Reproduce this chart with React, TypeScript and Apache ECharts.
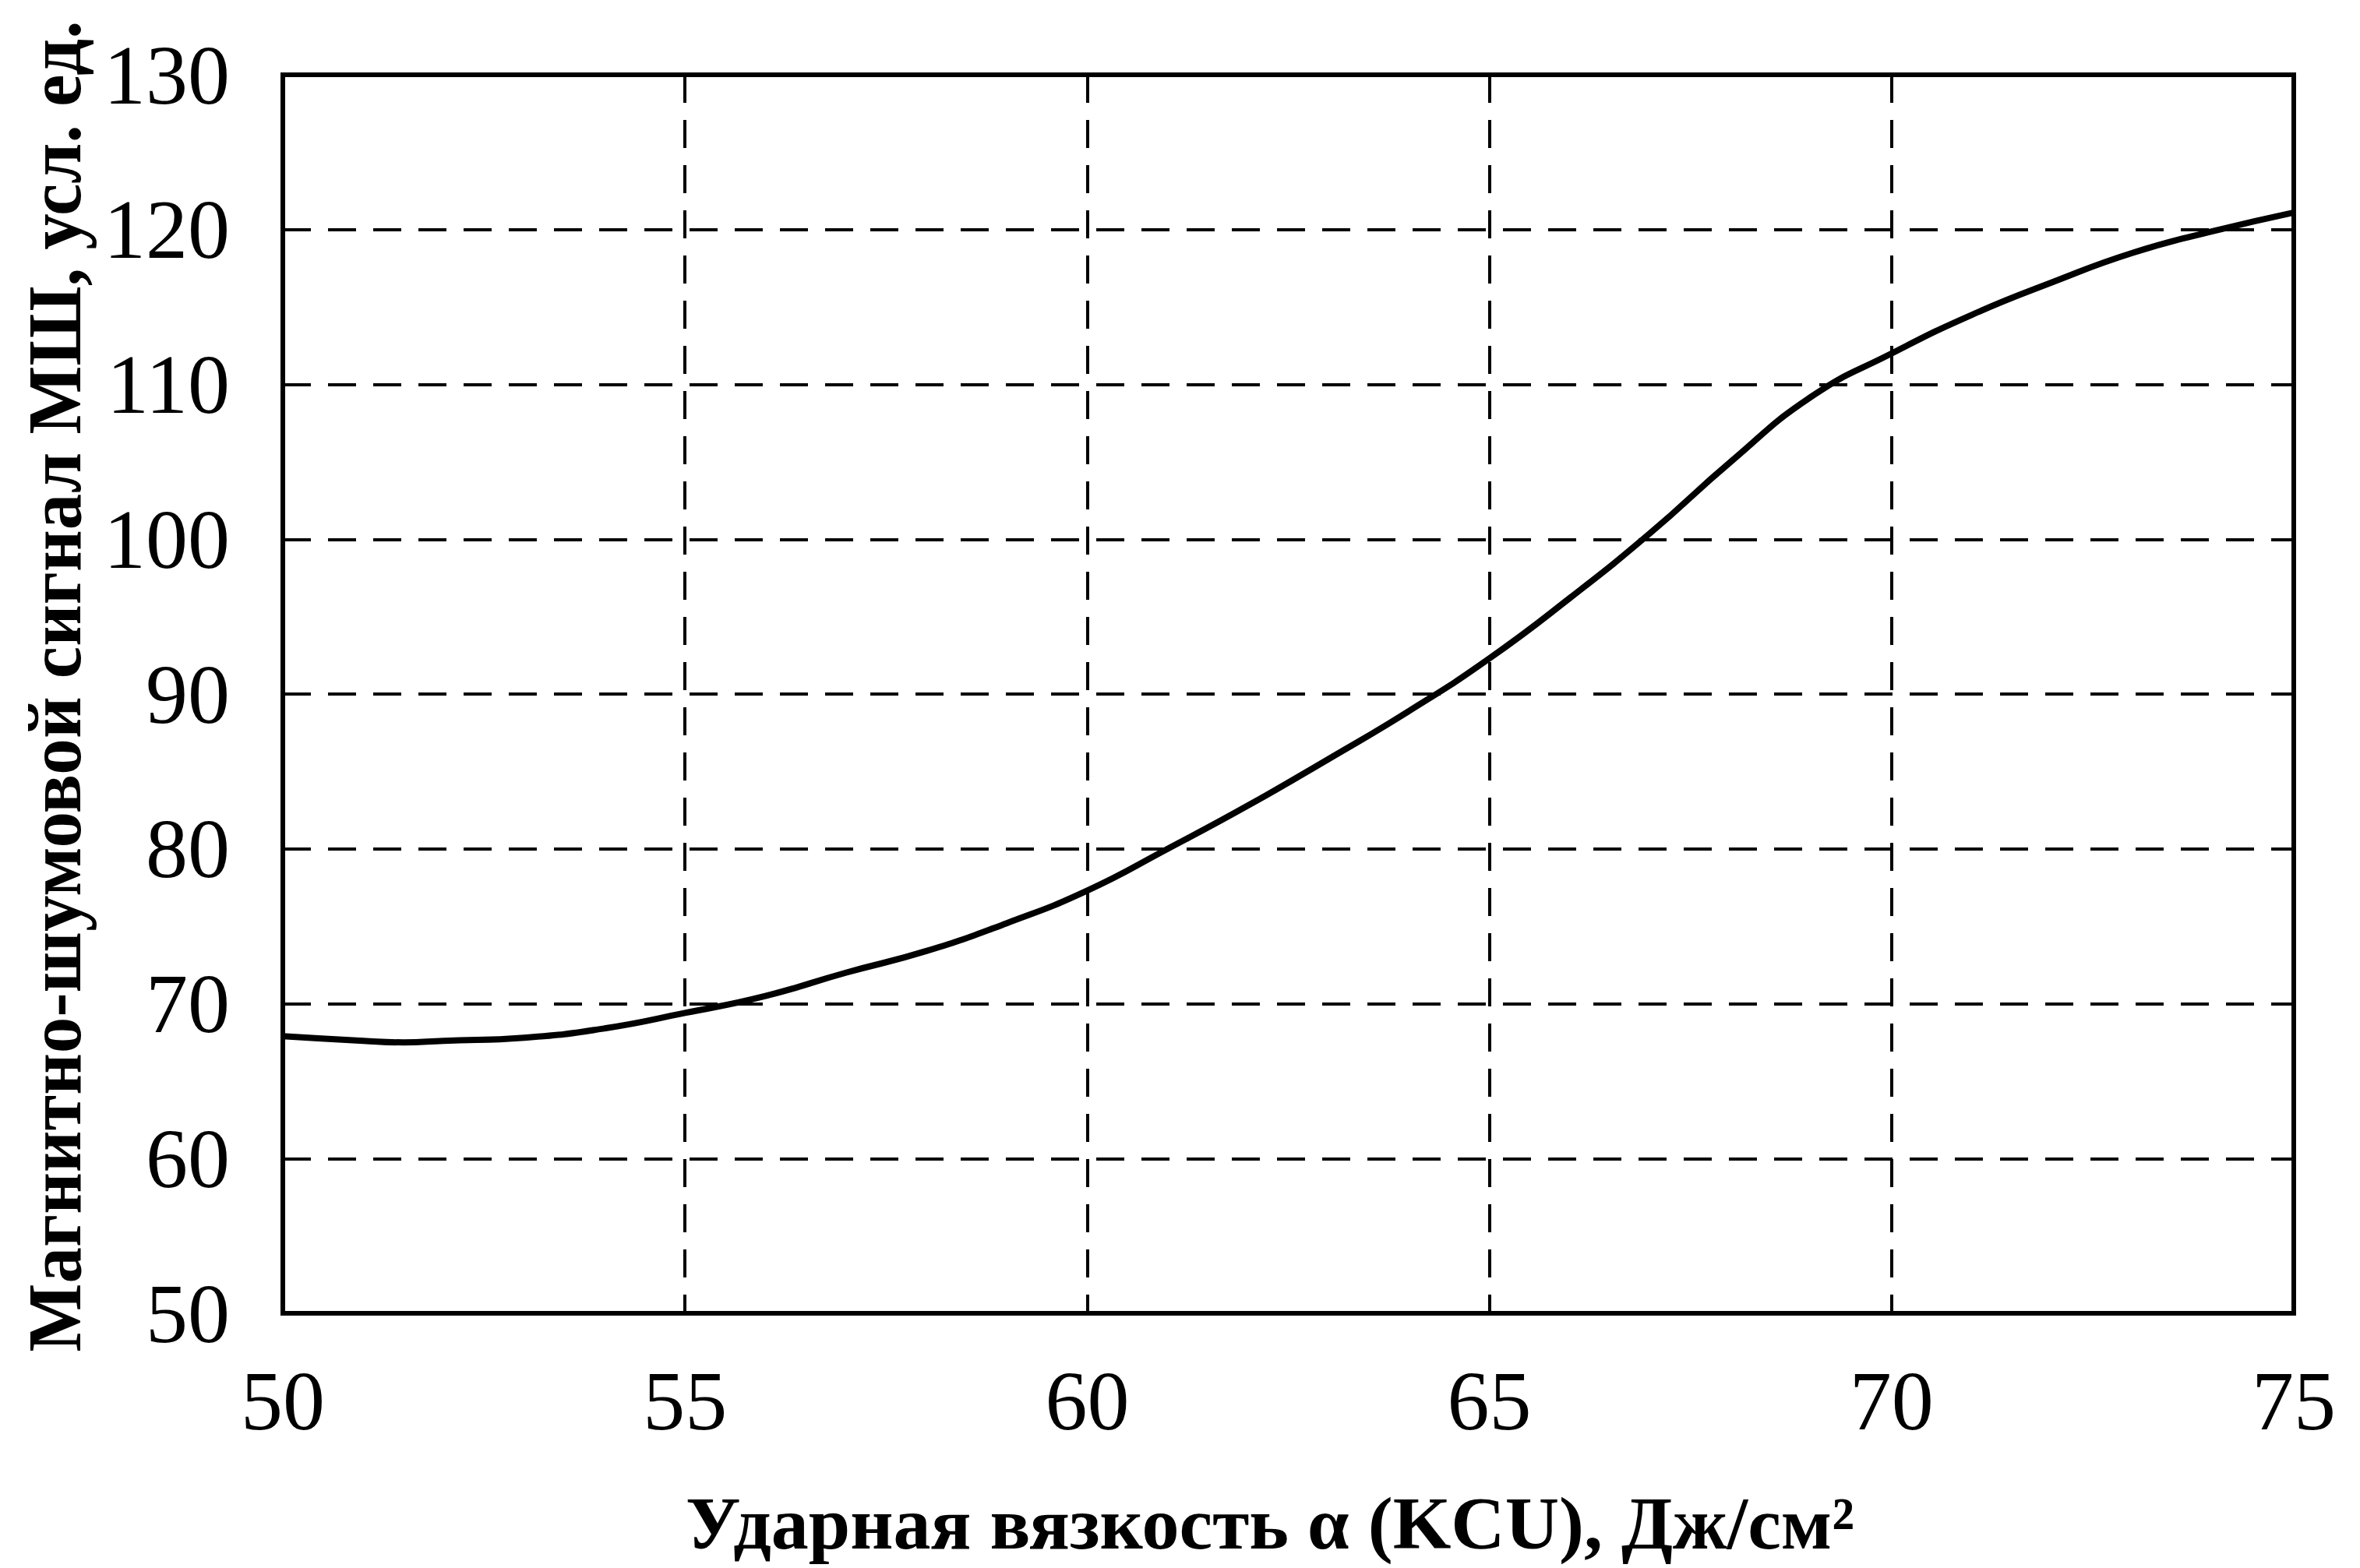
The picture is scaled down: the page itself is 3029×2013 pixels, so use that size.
import React, { useEffect, useRef } from "react";
import * as echarts from "echarts";

const xValues = [50, 51, 51.5, 52, 53, 54, 55, 56, 57, 58, 59, 60, 61, 62, 63, 64, 65, 66, 67, 68, 69, 70, 71, 72, 73, 74, 75];
const yValues = [67.9, 67.6, 67.5, 67.6, 67.8, 68.4, 69.4, 70.5, 72.0, 73.4, 75.2, 77.3, 80.0, 82.8, 85.8, 88.9, 92.3, 96.2, 100.4, 105.0, 109.2, 112.0, 114.5, 116.6, 118.5, 119.9, 121.1];

const xTitle = "Ударная вязкость α (KCU), Дж/см²";
const yTitle = "Магнитно-шумовой сигнал МШ, усл. ед.";

export default function App() {
  const ref = useRef<HTMLDivElement>(null);
  useEffect(() => {
    if (!ref.current) return;
    const chart = echarts.init(ref.current, null, { renderer: "svg" });
    const font = "'Liberation Serif', 'Times New Roman', serif";
    const dash = { type: [36, 22] as any, color: "#000", width: 4 };
    chart.setOption({
      animation: false,
      backgroundColor: "#fff",
      grid: {
        left: 363,
        right: 85,
        top: 96,
        bottom: 327,
        show: true,
        borderColor: "#000",
        borderWidth: 6,
      },
      xAxis: {
        type: "value",
        min: 50,
        max: 75,
        interval: 5,
        axisLine: { show: true, lineStyle: { color: "#000", width: 6 } },
        axisTick: { show: false },
        splitLine: { show: true, lineStyle: dash },
        axisLabel: { color: "#000", fontSize: 108, fontFamily: font, margin: 58 },
      },
      yAxis: {
        type: "value",
        min: 50,
        max: 130,
        interval: 10,
        axisLine: { show: true, lineStyle: { color: "#000", width: 6 } },
        axisTick: { show: false },
        splitLine: { show: true, lineStyle: dash },
        axisLabel: { color: "#000", fontSize: 108, fontFamily: font, margin: 68 },
      },
      graphic: [
        {
          type: "text",
          x: 1630,
          y: 1955,
          style: {
            text: xTitle,
            fontSize: 96,
            fontWeight: "bold",
            fontFamily: font,
            fill: "#000",
            align: "center",
            verticalAlign: "middle",
          },
        },
        {
          type: "text",
          x: 70,
          y: 881,
          rotation: Math.PI / 2,
          scaleX: 0.95,
          style: {
            text: yTitle,
            fontSize: 98,
            fontWeight: "bold",
            fontFamily: font,
            fill: "#000",
            align: "center",
            verticalAlign: "middle",
          },
        },
      ],
      series: [
        {
          type: "line",
          data: xValues.map((x, i) => [x, yValues[i]]),
          smooth: true,
          showSymbol: false,
          lineStyle: { color: "#000", width: 8 },
          z: 5,
        },
      ],
    });
    return () => chart.dispose();
  }, []);
  return (
    <div
      ref={ref}
      style={{ position: "fixed", left: 0, top: 0, width: 3029, height: 2013, background: "#fff" }}
    />
  );
}
